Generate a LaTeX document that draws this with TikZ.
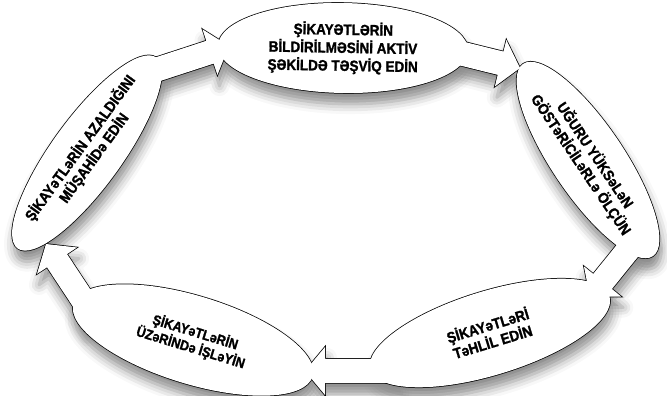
\documentclass[tikz,border=0pt]{standalone}
\usepackage{fontspec}
\setmainfont{Liberation Sans}
\newfontfamily\heavy[FakeBold=1.4,FakeStretch=0.9]{Liberation Sans}
\usetikzlibrary{shapes.geometric,calc,shadows.blur}
\tikzset{
  ell/.style={ellipse, inner sep=0pt, outer sep=0pt},
  lbl/.style={align=center, font=\heavy\bfseries\fontsize{15}{18}\selectfont, inner sep=0pt},
  pass0/.style={fill=white, blur shadow={shadow xshift=2pt, shadow yshift=-11pt, shadow blur radius=10pt, shadow opacity=100}},
  pass1/.style={fill=white, draw=black, line width=1.5pt, line join=miter},
  pass2/.style={fill=white},
}
% #1 style, #2 tail, #3 head base, #4 tip
\newcommand\blockarrow[4]{%
  \path[#1] ($(#2)!12pt!90:(#4)$) -- ($(#3)!12pt!90:(#4)$) -- ($(#3)!24pt!90:(#4)$)
    -- (#4) -- ($(#3)!24pt!-90:(#4)$) -- ($(#3)!12pt!-90:(#4)$) -- ($(#2)!12pt!-90:(#4)$) -- cycle;}
\newcommand\allshapes[1]{%
  \node[ell,#1,minimum width=250pt,minimum height=90pt,rotate=-1] (e1) at (343,348) {};
  \node[ell,#1,minimum width=232pt,minimum height=72pt,rotate=-56] (e2) at (588,236) {};
  \node[ell,#1,minimum width=250pt,minimum height=84pt,rotate=17] (e3) at (490,63) {};
  \node[ell,#1,minimum width=250pt,minimum height=88pt,rotate=-17] (e4) at (193,56) {};
  \node[ell,#1,minimum width=236pt,minimum height=70pt,rotate=54] (e5) at (87,243) {};
  \blockarrow{#1}{tA}{hA}{pA}
  \blockarrow{#1}{tB}{hB}{pB}
  \blockarrow{#1}{tC}{hC}{pC}
  \blockarrow{#1}{tD}{hD}{pD}
  \blockarrow{#1}{tE}{hE}{pE}
}
\begin{document}
\begin{tikzpicture}[x=1pt,y=1pt]
\useasboundingbox (0,0) rectangle (667,396);
% arrow ends
\coordinate (tA) at (134,319); \coordinate (pA) at (229,350);
\coordinate (tB) at (423,352); \coordinate (pB) at (520,328);
\coordinate (tC) at (643.6,165.3); \coordinate (pC) at (590,99);
\coordinate (tD) at (400,25); \coordinate (pD) at (305,25);
\coordinate (tE) at (95.5,77); \coordinate (pE) at (46,152);
\foreach \n in {A,B,C,D,E}{\coordinate (h\n) at ($(p\n)!20pt!(t\n)$);}
\begin{scope}[transparency group, opacity=0.45]
  \allshapes{pass0}
\end{scope}
\allshapes{pass1}
\allshapes{pass2}
% labels
\node[lbl,rotate=-1] (t1) at (e1.center) {ŞİKAYƏTLƏRİN\\BİLDİRİLMƏSİNİ AKTİV\\ŞƏKİLDƏ TƏŞVİQ EDİN};
\node[lbl,rotate=-56,font=\heavy\bfseries\fontsize{15}{17}\selectfont] (t2) at (e2.center) {UĞURU YÜKSəLəN\\GÖSTəRİCİLəRLə ÖLÇÜN};
\node[lbl,rotate=17,font=\heavy\bfseries\fontsize{15}{17}\selectfont] (t3) at (e3.center) {ŞİKAYəTLəRİ\\TəHLİL EDİN};
\node[lbl,rotate=-17,font=\heavy\bfseries\fontsize{14}{16}\selectfont] (t4) at (e4.center) {ŞİKAYəTLəRİN\\ÜZəRİNDə İŞLəYİN};
\node[lbl,rotate=54,font=\heavy\bfseries\fontsize{15}{17}\selectfont] (t5) at (e5.center) {ŞİKAYəTLəRİN AZALDIĞINI\\MÜŞAHİDə EDİN};
\end{tikzpicture}
\end{document}
